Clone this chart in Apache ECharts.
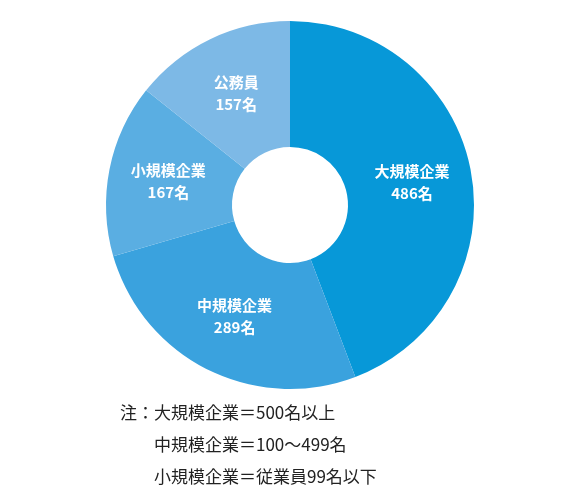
<!DOCTYPE html>
<html><head><meta charset="utf-8">
<script src="https://cdn.jsdelivr.net/npm/echarts@6/dist/echarts.min.js"></script>
<style>html,body{margin:0;background:#fff}#c{width:580px;height:500px}</style>
</head><body><div id="c"></div>
<script>
const categories = ['大規模企業', '中規模企業', '小規模企業', '公務員'];
const counts = [486, 289, 167, 157];
const colors = ['#0798d8', '#3aa2de', '#5aaee2', '#7db9e6'];
const notes = ['注：大規模企業＝500名以上', '　　中規模企業＝100～499名', '　　小規模企業＝従業員99名以下'];

const chart = echarts.init(document.getElementById('c'));
chart.setOption({
  animation: false,
  series: [{
    type: 'pie',
    center: [290, 205],
    radius: [58, 184],
    startAngle: 90,
    clockwise: true,
    itemStyle: { borderWidth: 0 },
    label: {
      position: 'inside',
      color: '#fff',
      fontWeight: 'bold',
      fontSize: 15,
      lineHeight: 22,
      fontFamily: 'Noto Sans CJK JP',
      formatter: (p) => p.name + '\n' + p.value + '名'
    },
    labelLine: { show: false },
    data: categories.map((name, i) => ({ name, value: counts[i], itemStyle: { color: colors[i] } }))
  }],
  graphic: notes.map((t, i) => ({
    type: 'text',
    left: 120,
    top: 404 + i * 32,
    style: { text: t, fontSize: 17, fill: '#222', fontFamily: 'Noto Sans CJK JP' }
  }))
});
</script></body></html>
